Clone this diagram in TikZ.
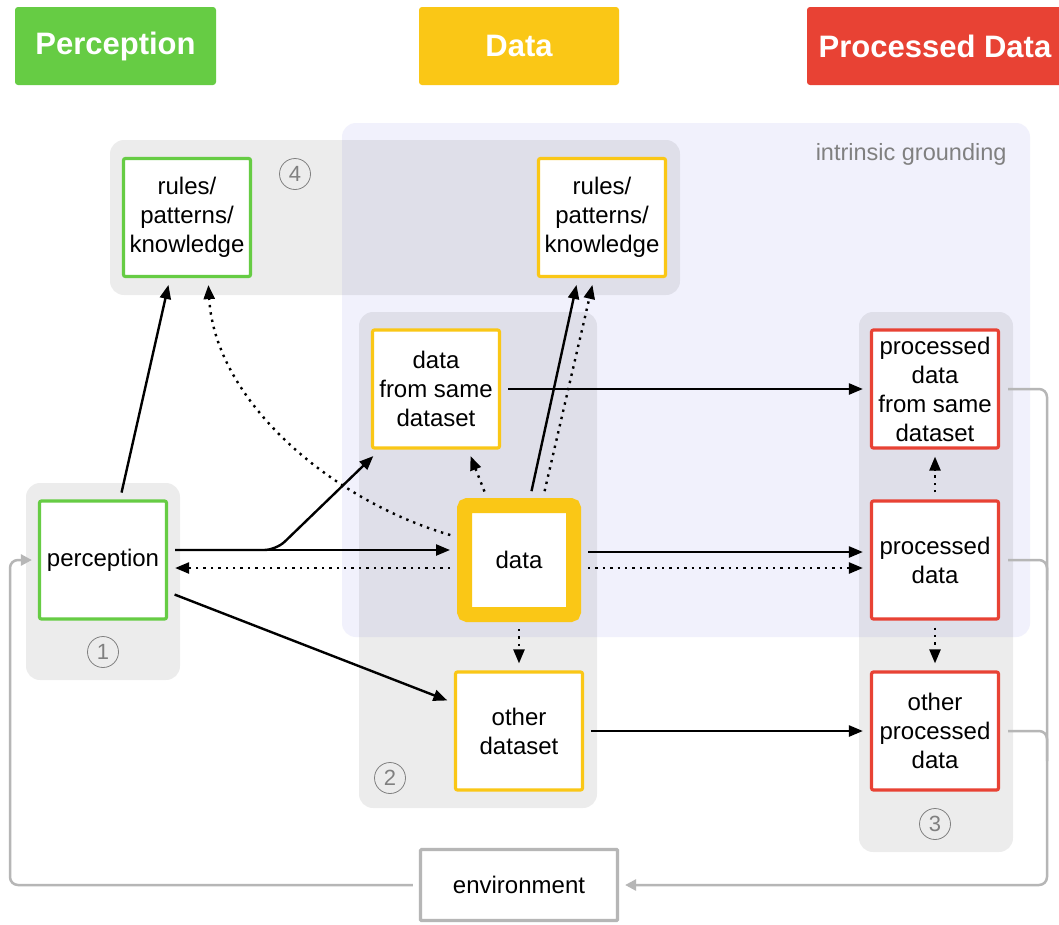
\documentclass[tikz,border=0pt]{standalone}
\usepackage{fontspec}
\setmainfont{Liberation Sans}
\usetikzlibrary{arrows.meta,calc}
\definecolor{cgreen}{RGB}{102,204,68}
\definecolor{cyellow}{RGB}{250,199,22}
\definecolor{cred}{RGB}{232,66,52}
\definecolor{clav}{RGB}{241,241,252}
\definecolor{cgline}{RGB}{182,182,182}
\definecolor{cnum}{RGB}{128,128,128}
\begin{document}
\begin{tikzpicture}[x=1pt,y=-1pt,
  box/.style={draw, fill=white, line width=3.2pt, rounded corners=2pt, minimum width=127pt, minimum height=118pt, align=center, inner sep=0pt, font=\fontsize{24}{29}\selectfont},
  hdr/.style={fill=#1, rounded corners=3pt, minimum height=78pt, text=white, inner sep=0pt, font=\bfseries\fontsize{31}{31}\selectfont},
  grp/.style={fill=black, fill opacity=0.075, rounded corners=14pt},
  numc/.style={circle, draw=cnum, line width=0.8pt, minimum size=31pt, inner sep=0pt, text=cnum, font=\fontsize{22}{22}\selectfont},
  arr/.style={-{Triangle[length=14pt,width=11pt]}, line width=2.4pt, shorten >=7pt, shorten <=7pt},
  dotarr/.style={arr, dash pattern=on 2.4pt off 5pt},
  garr/.style={-{Triangle[length=11pt,width=11pt]}, draw=cgline, line width=2.5pt, rounded corners=8pt},
  gline/.style={draw=cgline, line width=2.5pt, rounded corners=8pt}
]
\useasboundingbox (0,0) rectangle (1059,924);
\fill[white] (0,0) rectangle (1059,924);

% headers
\node[hdr=cgreen, minimum width=201pt] (hP) at (115.5,46) {Perception};
\node[hdr=cyellow, minimum width=200pt] (hD) at (519,46) {Data};
\node[hdr=cred, minimum width=256pt] (hPD) at (935,46) {Processed Data};

% regions
\fill[clav, rounded corners=14pt] (342,123) rectangle (1030,637);
\node[text=cnum, anchor=base east, font=\fontsize{23.5}{24}\selectfont] (ig) at (1010,160) {intrinsic grounding};
\fill[grp] (110,140) rectangle (680,295);
\fill[grp] (26,483) rectangle (180,680);
\fill[grp] (359,312) rectangle (597,808);
\fill[grp] (859,312) rectangle (1013,852);

% numbers
\node[numc] (n4) at (295,174) {4};
\node[numc] (n1) at (103,652) {1};
\node[numc] (n2) at (390,778) {2};
\node[numc] (n3) at (935,824) {3};

% boxes
\node[box, draw=cgreen] (rulesL) at (187,217.5) {rules/\\patterns/\\knowledge};
\node[box, draw=cyellow] (rulesR) at (602,217.5) {rules/\\patterns/\\knowledge};
\node[box, draw=cgreen] (perc) at (103,560) {perception};
\node[box, draw=cyellow] (dfsd) at (436,389) {data\\from same\\dataset};
\node[draw=cyellow, fill=white, line width=15pt, rounded corners=3pt, minimum size=109pt, inner sep=0pt, font=\fontsize{24}{29}\selectfont] (data) at (519,560) {data};
\node[box, draw=cyellow] (other) at (519,731) {other\\dataset};
\node[box, draw=cred] (pdfsd) at (935,389) {processed\\data\\from same\\dataset};
\node[box, draw=cred] (pd) at (935,560) {processed\\data};
\node[box, draw=cred] (opd) at (935,731) {other\\processed\\data};
\node[box, draw=cgline, minimum width=197pt, minimum height=71pt, rounded corners=1pt] (env) at (519,885) {environment};

% black connectors
\draw[arr] ([xshift=17pt]perc.north) -- ([xshift=-17pt]rulesL.south);
\draw[dotarr] ([yshift=23pt]data.west) .. controls (330,500) and (215,400) .. ([xshift=21pt]rulesL.south);
\draw[arr] ([xshift=11pt]data.north) -- ([xshift=-24pt]rulesR.south);
\draw[dotarr] ([xshift=24pt]data.north) -- ([xshift=-8pt]rulesR.south);
\draw[dotarr] ([xshift=-32pt]data.north) -- ([xshift=32pt]dfsd.south);
\draw[arr] ([yshift=10pt]perc.east) -- ([yshift=10pt]data.west);
\draw[arr, rounded corners=12pt, shorten >=5pt] ([yshift=10pt]perc.east) -- ++(108,0) -- ([xshift=6pt,yshift=-3pt]dfsd.south west);
\draw[dotarr] ([yshift=-8pt]data.west) -- ([yshift=-8pt]perc.east);
\draw[arr] ([yshift=-32pt]perc.east) -- ([yshift=28pt]other.west);
\draw[arr] ([yshift=8pt]data.east) -- ([yshift=8pt]pd.west);
\draw[dotarr] ([yshift=-8pt]data.east) -- ([yshift=-8pt]pd.west);
\draw[arr] (dfsd.east) -- (pdfsd.west);
\draw[arr] (other.east) -- (opd.west);
\draw[dotarr] (data.south) -- (other.north);
\draw[dotarr] (pd.north) -- (pdfsd.south);
\draw[dotarr] (pd.south) -- (opd.north);

% gray feedback
\coordinate (rail) at (1047,885);
\coordinate (lrail) at (10,885);
\draw[garr, shorten <=8pt, shorten >=6pt] (pdfsd.east) -- (pdfsd.east -| rail) -- (rail) -- (env.east);
\draw[gline, shorten <=8pt] (pd.east) -- (pd.east -| rail) -- ([yshift=-30pt]pd.east -| rail);
\draw[gline, shorten <=8pt] (opd.east) -- (opd.east -| rail) -- ([yshift=-30pt]opd.east -| rail);
\draw[garr, shorten <=6pt, shorten >=6pt] (env.west) -- (lrail) -- (lrail |- perc.west) -- (perc.west);
\end{tikzpicture}
\end{document}
